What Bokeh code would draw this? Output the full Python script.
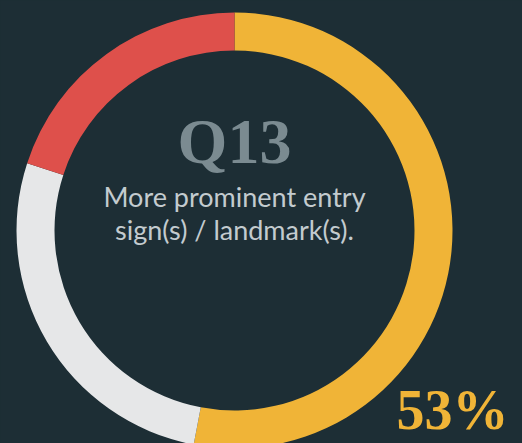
from bokeh.plotting import figure
from bokeh.models import Range1d, ColumnDataSource
from bokeh.core.properties import value
from bokeh.embed import file_html
from bokeh.resources import INLINE
import math

# ---- data ----
categories = ["Yes", "No", "Not sure"]
shares = [53, 27, 20]
colors = ["#f0b437", "#e6e7e8", "#de504b"]
question = "Q13"
subtitle = ["More prominent entry", "sign(s) / landmark(s)."]
highlight = "53%"

BG = "#1d2e35"
W, H = 522, 443

p = figure(width=W, height=H, output_backend="svg", toolbar_location=None,
           x_range=Range1d(0, W), y_range=Range1d(0, H), min_border=0)
p.axis.visible = False
p.grid.visible = False
p.outline_line_color = None
p.background_fill_color = BG
p.border_fill_color = BG

# page coords -> data coords (y up)
cx, cy = 234, H - 230

total = sum(shares)
starts, ends = [], []
acc = 0
for s in shares:
    starts.append(math.pi / 2 - 2 * math.pi * acc / total)
    acc += s
    ends.append(math.pi / 2 - 2 * math.pi * acc / total)

src = ColumnDataSource(dict(cat=categories, share=shares, color=colors,
                            start=starts, end=ends))
p.annular_wedge(x=cx, y=cy, inner_radius=180, outer_radius=218,
                start_angle="start", end_angle="end", direction="clock",
                fill_color="color", line_color=None, source=src)

p.text(x=[cx], y=[H - 141], text=[question],
       text_font=value("Liberation Serif"), text_font_style="bold",
       text_font_size="64px", text_color="#7b8b91",
       text_align="center", text_baseline="middle")

p.text(x=[cx, cx], y=[H - 196, H - 229], text=subtitle,
       text_font=value("Lato"), text_font_size="27px", text_color="#c3cbcf",
       text_align="center", text_baseline="middle")

p.text(x=[508], y=[H - 409], text=[highlight],
       text_font=value("Liberation Serif"), text_font_style="bold",
       text_font_size="56px", text_color="#f0b437",
       text_align="right", text_baseline="middle")

html = file_html(p, INLINE, title="Q13")
html = html.replace("</head>", "<style>html,body{background:%s;margin:0;padding:0;overflow:hidden;}</style></head>" % BG)
open("out.html", "w").write(html)
